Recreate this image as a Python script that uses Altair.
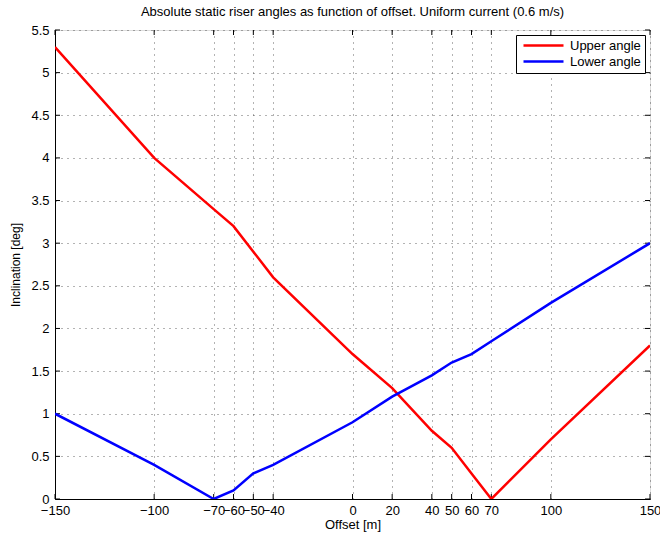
import altair as alt
import pandas as pd

# Offsets [m] where the riser angles were evaluated
offsets = [-150, -100, -70, -60, -50, -40, 0, 20, 40, 50, 60, 70, 100, 150]
# Absolute static angles [deg]
upper_angle = [5.3, 4.0, 3.4, 3.2, 2.9, 2.6, 1.7, 1.3, 0.8, 0.6, 0.3, 0.0, 0.7, 1.8]
lower_angle = [1.0, 0.4, 0.0, 0.1, 0.3, 0.4, 0.9, 1.2, 1.45, 1.6, 1.7, 1.85, 2.3, 3.0]

x_ticks = [-150, -100, -70, -60, -50, -40, 0, 20, 40, 50, 60, 70, 100, 150]
y_ticks = [0, 0.5, 1, 1.5, 2, 2.5, 3, 3.5, 4, 4.5, 5, 5.5]

series_names = ["Upper angle", "Lower angle"]
series_colors = ["#ff0000", "#0000ff"]

W, H = 595, 469
FONT = "Liberation Sans"

df = pd.concat([
    pd.DataFrame({"offset": offsets, "angle": upper_angle, "series": series_names[0]}),
    pd.DataFrame({"offset": offsets, "angle": lower_angle, "series": series_names[1]}),
])
xt = pd.DataFrame({"v": x_ticks})
yt = pd.DataFrame({"v": y_ticks})

x_scale = alt.Scale(domain=[-150, 150], nice=False, zero=False)
y_scale = alt.Scale(domain=[0, 5.5], nice=False, zero=False)

x_axis = alt.Axis(values=x_ticks, format="d", title="Offset [m]", ticks=False,
                  grid=True, gridDash=[1, 5], gridColor="#333333", gridOpacity=0.75,
                  domainColor="black", labelFont=FONT, labelFontSize=13, labelColor="black",
                  labelPadding=5, labelOverlap=False, labelFlush=False, labelBound=False,
                  titleFont=FONT, titleFontSize=13, titleFontWeight="normal",
                  titleColor="black", titlePadding=1)
y_axis = alt.Axis(values=y_ticks, format="~g", title="Inclination [deg]", ticks=False,
                  grid=True, gridDash=[1, 5], gridColor="#333333", gridOpacity=0.75,
                  domainColor="black", labelFont=FONT, labelFontSize=13, labelColor="black",
                  labelPadding=6, labelOverlap=False, labelFlush=False,
                  titleFont=FONT, titleFontSize=12, titleFontWeight="normal",
                  titleColor="black", titlePadding=8)

# Long, flat line as the legend swatch
swatch = "M-4,0H4"

lines = alt.Chart(df).mark_line(strokeWidth=2.5, clip=True).encode(
    x=alt.X("offset:Q", scale=x_scale, axis=x_axis),
    y=alt.Y("angle:Q", scale=y_scale, axis=y_axis),
    color=alt.Color("series:N",
                    scale=alt.Scale(domain=series_names, range=series_colors),
                    legend=alt.Legend(title=None, orient="none", legendX=461, legendY=5,
                                      symbolType=swatch, symbolSize=100,
                                      symbolStrokeWidth=2.5, symbolOffset=17,
                                      labelFont=FONT, labelFontSize=13, labelColor="black",
                                      labelOffset=20, rowPadding=2, padding=4,
                                      fillColor="white", strokeColor="black",
                                      cornerRadius=0)),
    detail="series:N",
)

# Inward tick marks on all four sides of the box
tick_len = 5
x_bottom = alt.Chart(xt).mark_rule(color="black", strokeWidth=1).encode(
    x=alt.X("v:Q", scale=x_scale), y=alt.value(H), y2=alt.value(H - tick_len))
x_top = alt.Chart(xt).mark_rule(color="black", strokeWidth=1).encode(
    x=alt.X("v:Q", scale=x_scale), y=alt.value(0), y2=alt.value(tick_len))
y_left = alt.Chart(yt).mark_rule(color="black", strokeWidth=1).encode(
    y=alt.Y("v:Q", scale=y_scale), x=alt.value(0), x2=alt.value(tick_len))
y_right = alt.Chart(yt).mark_rule(color="black", strokeWidth=1).encode(
    y=alt.Y("v:Q", scale=y_scale), x=alt.value(W), x2=alt.value(W - tick_len))

chart = alt.layer(x_bottom, x_top, y_left, y_right, lines).properties(
    width=W, height=H,
    title=alt.Title("Absolute static riser angles as function of offset. Uniform current (0.6 m/s)",
                    font=FONT, fontSize=13, fontWeight="normal", color="black",
                    anchor="middle", offset=5),
    autosize=alt.AutoSizeParams(type="none"),
    padding={"left": 55, "top": 30, "right": 10, "bottom": 34},
).configure_view(stroke="black", strokeWidth=1).configure(background="white")

chart.save("out.html", embed_options={"renderer": "svg", "actions": False})
